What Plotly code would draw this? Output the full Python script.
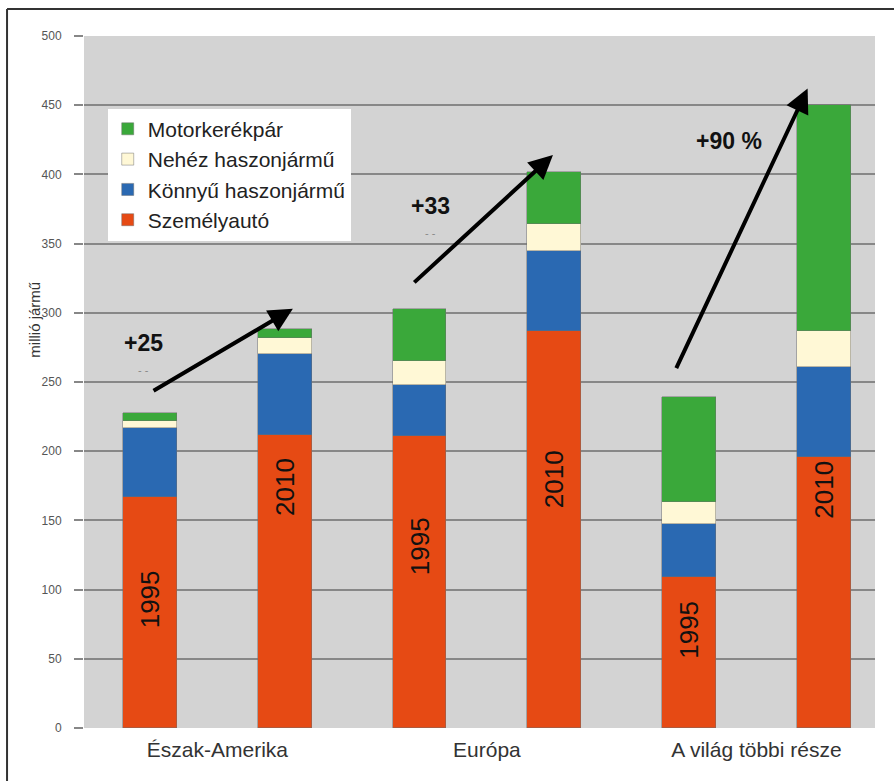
import plotly.graph_objects as go

# Vehicle fleet by region, 1995 vs 2010 (million vehicles)
regions = ["Észak-Amerika", "Európa", "A világ többi része"]
bar_years = ["1995", "2010", "1995", "2010", "1995", "2010"]

szemelyauto = [167, 212, 211, 287, 109, 196]
konnyu_haszon = [50, 58, 37, 58, 38.5, 64.5]
nehez_haszon = [5, 11.5, 17, 19, 15.5, 26.5]
motorkerekpar = [5.5, 6.5, 38, 38, 76, 163]

growth_labels = ["+25", "+33", "+90 %"]

series = [
    ("Személyautó", szemelyauto, "#e64a14"),
    ("Könnyű haszonjármű", konnyu_haszon, "#2a69b2"),
    ("Nehéz haszonjármű", nehez_haszon, "#fff8d6"),
    ("Motorkerékpár", motorkerekpar, "#3aa83a"),
]

xpos = list(range(len(bar_years)))

fig = go.Figure()
for name, vals, color in series:
    fig.add_trace(go.Bar(
        x=xpos, y=vals, name=name, width=0.4,
        marker=dict(color=color, line=dict(color="rgba(110,110,110,0.6)", width=0.8)),
        hoverinfo="skip",
    ))

# Year labels written vertically inside the car segment
year_label_y = [93, 174, 131, 180, 71, 172]
annotations = []
for i, (yr, ly) in enumerate(zip(bar_years, year_label_y)):
    annotations.append(dict(
        x=xpos[i], y=ly, text=yr, showarrow=False, textangle=-90,
        font=dict(family="Liberation Sans, Arial", size=26, color="#111111"),
    ))

# Growth arrows (tail -> head, data coordinates)
arrows = [
    ((0.015, 243), (1.06, 303)),
    ((1.95, 321), (2.99, 414)),
    ((3.90, 259), (4.88, 462)),
]
for (tx, ty), (hx, hy) in arrows:
    annotations.append(dict(
        x=hx, y=hy, ax=tx, ay=ty, axref="x", ayref="y", xref="x", yref="y",
        text="", showarrow=True, arrowhead=2, arrowsize=1.2, arrowwidth=4,
        arrowcolor="#000000", standoff=0, startstandoff=0,
    ))

growth_pos = [(-0.05, 278), (2.08, 377), (4.30, 424)]
for txt, (gx, gy) in zip(growth_labels, growth_pos):
    annotations.append(dict(
        x=gx, y=gy, text="<b>" + txt + "</b>", showarrow=False,
        font=dict(family="Liberation Sans, Arial", size=23, color="#111111"),
    ))
for gx, gy in [(-0.05, 259), (2.08, 358)]:
    annotations.append(dict(
        x=gx, y=gy, text="- -", showarrow=False,
        font=dict(family="Liberation Sans, Arial", size=11, color="#888888"),
    ))

# y-axis title
annotations.append(dict(
    xref="paper", yref="paper", x=-0.062, y=0.59,
    xanchor="center", yanchor="middle",
    text="millió jármű", showarrow=False, textangle=-90,
    font=dict(family="Liberation Sans, Arial", size=15, color="#333333"),
))

fig.update_layout(
    width=894, height=781,
    margin=dict(l=84, r=19, t=36, b=53),
    paper_bgcolor="white",
    plot_bgcolor="#d3d3d3",
    barmode="stack",
    bargap=0,
    font=dict(family="Liberation Sans, Arial", color="#333333"),
    xaxis=dict(
        range=[-0.49, 5.38],
        tickvals=[0.5, 2.5, 4.5], ticktext=regions,
        showgrid=False, zeroline=False, showline=False, ticks="",
        tickfont=dict(size=21, color="#333333"),
        ticklabelstandoff=7,
    ),
    yaxis=dict(
        range=[0, 500], dtick=50,
        showgrid=True, gridcolor="#878787", gridwidth=1.6,
        zeroline=False, showline=False,
        ticks="outside", ticklen=9, tickcolor="#878787", tickwidth=1.6,
        tickfont=dict(size=12, color="#555555"),
        ticklabelstandoff=10,
    ),
    legend=dict(
        x=0.03, y=0.895, xanchor="left", yanchor="top",
        bgcolor="white", traceorder="reversed",
        font=dict(size=21, color="#222222"),
        itemwidth=30,
    ),
    annotations=annotations,
    shapes=[
        dict(type="line", xref="paper", yref="paper",
             x0=-0.0973, x1=1.03, y0=1.039, y1=1.039,
             line=dict(color="#333333", width=2)),
        dict(type="line", xref="paper", yref="paper",
             x0=-0.0973, x1=-0.0973, y0=1.039, y1=-0.09,
             line=dict(color="#333333", width=2)),
    ],
)

fig.write_html("out.html")
